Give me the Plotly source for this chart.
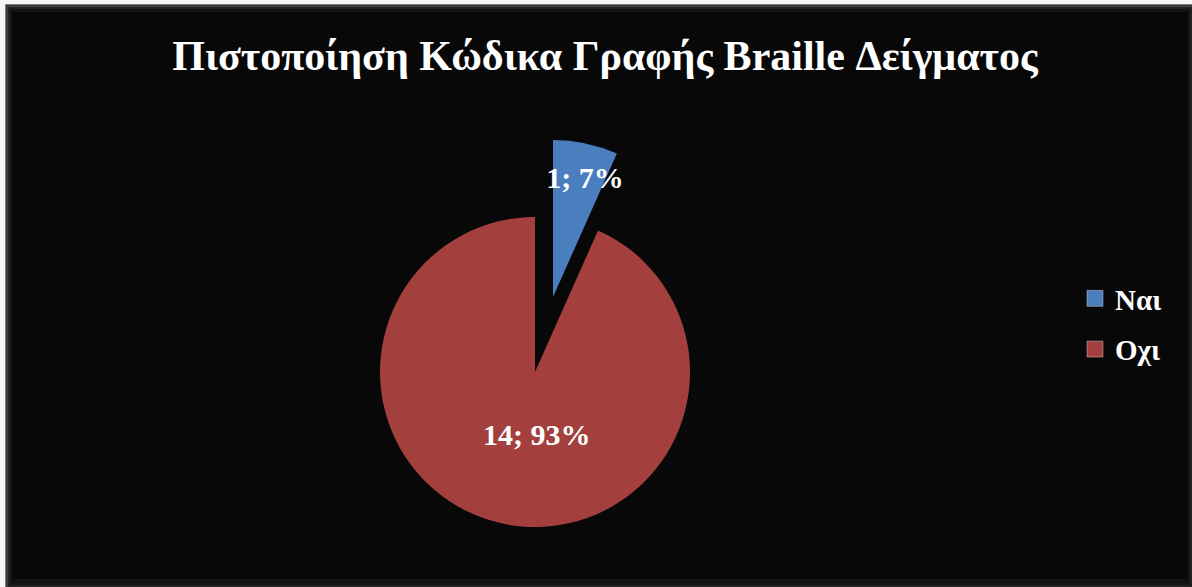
import plotly.graph_objects as go

# ---- data ----
labels = ["Ναι", "Οχι"]
values = [1, 14]
colors = ["#4A7EBE", "#A3403E"]
title_text = "Πιστοποίηση Κώδικα Γραφής Braille Δείγματος"

W, H = 1192, 587
FONT = "Liberation Serif"
CLEAR = "rgba(0,0,0,0)"


def px_x(x):
    return x / W


def px_y(y):
    return 1 - y / H


def dom(cx, cy, r):
    return dict(x=[px_x(cx - r), px_x(cx + r)], y=[px_y(cy + r), px_y(cy - r)])


label_tpl = "%{value}; %{percent:.0%}"
label_font = dict(family=FONT, size=30, color="white", weight="bold")
common = dict(
    labels=labels,
    values=values,
    sort=False,
    direction="clockwise",
    rotation=0,
    showlegend=False,
    hoverinfo="skip",
)

fig = go.Figure()

# main (red) body of the pie; the exploded slice is left empty here
fig.add_trace(go.Pie(
    **common,
    domain=dom(535, 372, 155),
    marker=dict(colors=[CLEAR, colors[1]], line=dict(width=0)),
    textinfo="none",
))

# exploded slice (blue)
fig.add_trace(go.Pie(
    **common,
    domain=dom(553, 297, 157),
    marker=dict(colors=[colors[0], CLEAR], line=dict(width=0)),
    textinfo="none",
))

# slice labels (text only layers)
for tpl, centre in ((["", label_tpl], (553, 358)), ([label_tpl, ""], (558, 305))):
    fig.add_trace(go.Pie(
        **common,
        domain=dom(centre[0], centre[1], 157),
        marker=dict(colors=[CLEAR, CLEAR], line=dict(width=0)),
        texttemplate=tpl,
        textposition="inside",
        insidetextorientation="horizontal",
        textfont=label_font,
    ))

# legend entries
for lab, col in zip(labels, colors):
    fig.add_trace(go.Scatter(
        x=[None], y=[None], mode="markers", name=lab, legendgroup=lab,
        marker=dict(symbol="square", size=16, color=col,
                    line=dict(width=1, color="rgba(255,255,255,0.35)")),
        showlegend=True,
    ))

# chart frame with bevel
frame = [
    (5, 4, W, H, "#7a7a7a"),
    (6, 5, W, H, "#3c3c3c"),
    (8, 7, W, H, "#222222"),
    (10, 9, W - 2, H - 2, "#141414"),
    (12, 12, W - 4, H - 8, "#080808"),
]
shapes = []
for x0, y0, x1, y1, c in frame:
    shapes.append(dict(type="rect", xref="paper", yref="paper", layer="below",
                       x0=px_x(x0), x1=px_x(x1), y0=px_y(y1), y1=px_y(y0),
                       fillcolor=c, line=dict(width=0)))

fig.update_layout(
    width=W, height=H,
    margin=dict(l=0, r=0, t=0, b=0),
    paper_bgcolor="#f6f6f6",
    plot_bgcolor=CLEAR,
    shapes=shapes,
    xaxis=dict(visible=False),
    yaxis=dict(visible=False),
    uniformtext=dict(mode="show", minsize=30),
    title=dict(text=title_text, x=px_x(605), xanchor="center",
               y=px_y(55), yanchor="middle",
               font=dict(family=FONT, size=42, color="white", weight="bold")),
    legend=dict(x=px_x(1075), xanchor="left", y=px_y(273), yanchor="top",
                bgcolor=CLEAR, tracegroupgap=10, itemsizing="trace",
                font=dict(family=FONT, size=29, color="white", weight="bold")),
)

fig.write_html("out.html")
